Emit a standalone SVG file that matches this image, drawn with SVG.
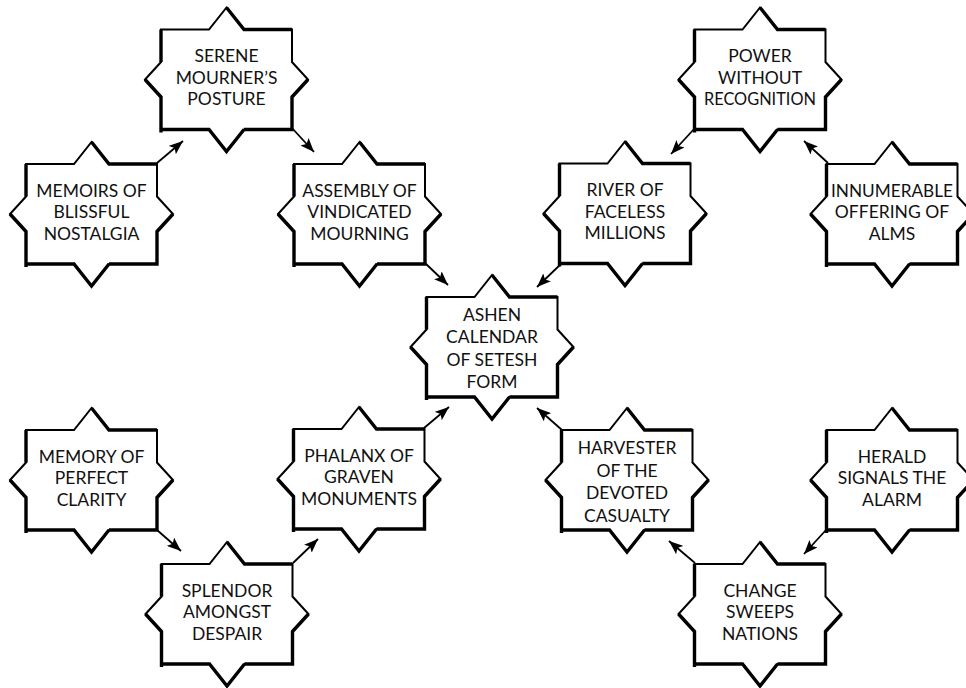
<svg xmlns="http://www.w3.org/2000/svg" xmlns:xlink="http://www.w3.org/1999/xlink" width="966" height="688" viewBox="0 0 966 688">
  <style>
    .star { fill: #ffffff; stroke: #000000; stroke-width: 2; stroke-linejoin: miter; }
    .heavy { fill: none; stroke: #000000; stroke-width: 3.4; stroke-linejoin: miter; stroke-linecap: butt; }
    .label { font-family: "Lato", "Liberation Sans", sans-serif; font-size: 17.5px; fill: #111111; text-anchor: middle; }
    .edge { stroke: #000000; stroke-width: 1.8; fill: none; marker-end: url(#arrow); }
  </style>
  <defs>
    <!-- eight-pointed star node outline, centred on the origin -->
    <path id="star-body" class="star" d="M-65.5,-50 L-17.5,-50 L0,-72 L17.5,-50 L65.5,-50 L65.5,-17.5 L81.5,0 L65.5,17.5 L65.5,50 L17.5,50 L0,72 L-17.5,50 L-65.5,50 L-65.5,17.5 L-81.5,0 L-65.5,-17.5 Z"/>
    <!-- heavier hand-inked strokes along some sides -->
    <path id="star-ink" class="heavy" d="M-65.5,-50 L-65.5,-17.5 M-81.5,0 L-65.5,17.5 L-65.5,53 M-65.5,50 L-17.5,50 L0,72 L17.5,50 M17.5,50 L65.5,50 L65.5,17.5 L81.5,0 M0,-72 L17.5,-50 L65.5,-50"/>
    <g id="star">
      <use xlink:href="#star-body"/>
      <use xlink:href="#star-ink"/>
    </g>
    <marker id="arrow" viewBox="0 0 14 11" refX="14" refY="5.5" markerWidth="14" markerHeight="11" markerUnits="userSpaceOnUse" orient="auto">
      <path d="M0,0 L14,5.5 L0,11 L3,5.5 Z" fill="#000000"/>
    </marker>
  </defs>

  <g id="connectors">
    <line class="edge" x1="157" y1="163" x2="183" y2="141"/>
    <line class="edge" x1="292" y1="128" x2="314" y2="152"/>
    <line class="edge" x1="425" y1="263" x2="448" y2="285"/>
    <line class="edge" x1="562" y1="263" x2="537" y2="287"/>
    <line class="edge" x1="695" y1="128" x2="671" y2="154"/>
    <line class="edge" x1="828" y1="163" x2="804" y2="141"/>
    <line class="edge" x1="424" y1="428" x2="449" y2="407"/>
    <line class="edge" x1="562" y1="430" x2="537" y2="408"/>
    <line class="edge" x1="157" y1="530" x2="181" y2="551"/>
    <line class="edge" x1="293" y1="563" x2="318" y2="539"/>
    <line class="edge" x1="826" y1="530" x2="804" y2="554"/>
    <line class="edge" x1="695" y1="563" x2="669" y2="541"/>
  </g>

  <g id="serene-mourners-posture" transform="translate(226.5,79.5)">
    <use xlink:href="#star"/>
    <text class="label"><tspan x="0" y="-17.5">SERENE</tspan><tspan x="0" y="4">MOURNER’S</tspan><tspan x="0" y="25.5">POSTURE</tspan></text>
  </g>

  <g id="power-without-recognition" transform="translate(760,79.5)">
    <use xlink:href="#star"/>
    <text class="label"><tspan x="0" y="-17.5">POWER</tspan><tspan x="0" y="4">WITHOUT</tspan><tspan x="0" y="25.5" textLength="112" lengthAdjust="spacingAndGlyphs">RECOGNITION</tspan></text>
  </g>

  <g id="memoirs-of-blissful-nostalgia" transform="translate(91.5,214)">
    <use xlink:href="#star"/>
    <text class="label"><tspan x="0" y="-17.5">MEMOIRS OF</tspan><tspan x="0" y="4">BLISSFUL</tspan><tspan x="0" y="25.5">NOSTALGIA</tspan></text>
  </g>

  <g id="assembly-of-vindicated-mourning" transform="translate(359.5,214)">
    <use xlink:href="#star"/>
    <text class="label"><tspan x="0" y="-17.5">ASSEMBLY OF</tspan><tspan x="0" y="4">VINDICATED</tspan><tspan x="0" y="25.5">MOURNING</tspan></text>
  </g>

  <g id="river-of-faceless-millions" transform="translate(625,213.5)">
    <use xlink:href="#star"/>
    <text class="label"><tspan x="0" y="-17.5">RIVER OF</tspan><tspan x="0" y="4">FACELESS</tspan><tspan x="0" y="25.5">MILLIONS</tspan></text>
  </g>

  <g id="innumerable-offering-of-alms" transform="translate(892,214)">
    <use xlink:href="#star"/>
    <text class="label"><tspan x="0" y="-17.5" textLength="122" lengthAdjust="spacingAndGlyphs">INNUMERABLE</tspan><tspan x="0" y="4">OFFERING OF</tspan><tspan x="0" y="25.5">ALMS</tspan></text>
  </g>

  <g id="ashen-calendar-of-setesh-form" transform="translate(492,347)">
    <use xlink:href="#star"/>
    <text class="label"><tspan x="0" y="-26.5">ASHEN</tspan><tspan x="0" y="-4">CALENDAR</tspan><tspan x="0" y="18.5">OF SETESH</tspan><tspan x="0" y="41">FORM</tspan></text>
  </g>

  <g id="memory-of-perfect-clarity" transform="translate(91.5,480)">
    <use xlink:href="#star"/>
    <text class="label"><tspan x="0" y="-17.5">MEMORY OF</tspan><tspan x="0" y="4">PERFECT</tspan><tspan x="0" y="25.5">CLARITY</tspan></text>
  </g>

  <g id="phalanx-of-graven-monuments" transform="translate(359,479)">
    <use xlink:href="#star"/>
    <text class="label"><tspan x="0" y="-17.5">PHALANX OF</tspan><tspan x="0" y="4">GRAVEN</tspan><tspan x="0" y="25.5">MONUMENTS</tspan></text>
  </g>

  <g id="harvester-of-the-devoted-casualty" transform="translate(627,480)">
    <use xlink:href="#star"/>
    <text class="label"><tspan x="0" y="-26">HARVESTER</tspan><tspan x="0" y="-3.5">OF THE</tspan><tspan x="0" y="19">DEVOTED</tspan><tspan x="0" y="41.5">CASUALTY</tspan></text>
  </g>

  <g id="herald-signals-the-alarm" transform="translate(892,480)">
    <use xlink:href="#star"/>
    <text class="label"><tspan x="0" y="-17.5">HERALD</tspan><tspan x="0" y="4">SIGNALS THE</tspan><tspan x="0" y="25.5">ALARM</tspan></text>
  </g>

  <g id="splendor-amongst-despair" transform="translate(227,614)">
    <use xlink:href="#star"/>
    <text class="label"><tspan x="0" y="-17.5">SPLENDOR</tspan><tspan x="0" y="4">AMONGST</tspan><tspan x="0" y="25.5">DESPAIR</tspan></text>
  </g>

  <g id="change-sweeps-nations" transform="translate(760,614)">
    <use xlink:href="#star"/>
    <text class="label"><tspan x="0" y="-17.5">CHANGE</tspan><tspan x="0" y="4">SWEEPS</tspan><tspan x="0" y="25.5">NATIONS</tspan></text>
  </g>
</svg>
